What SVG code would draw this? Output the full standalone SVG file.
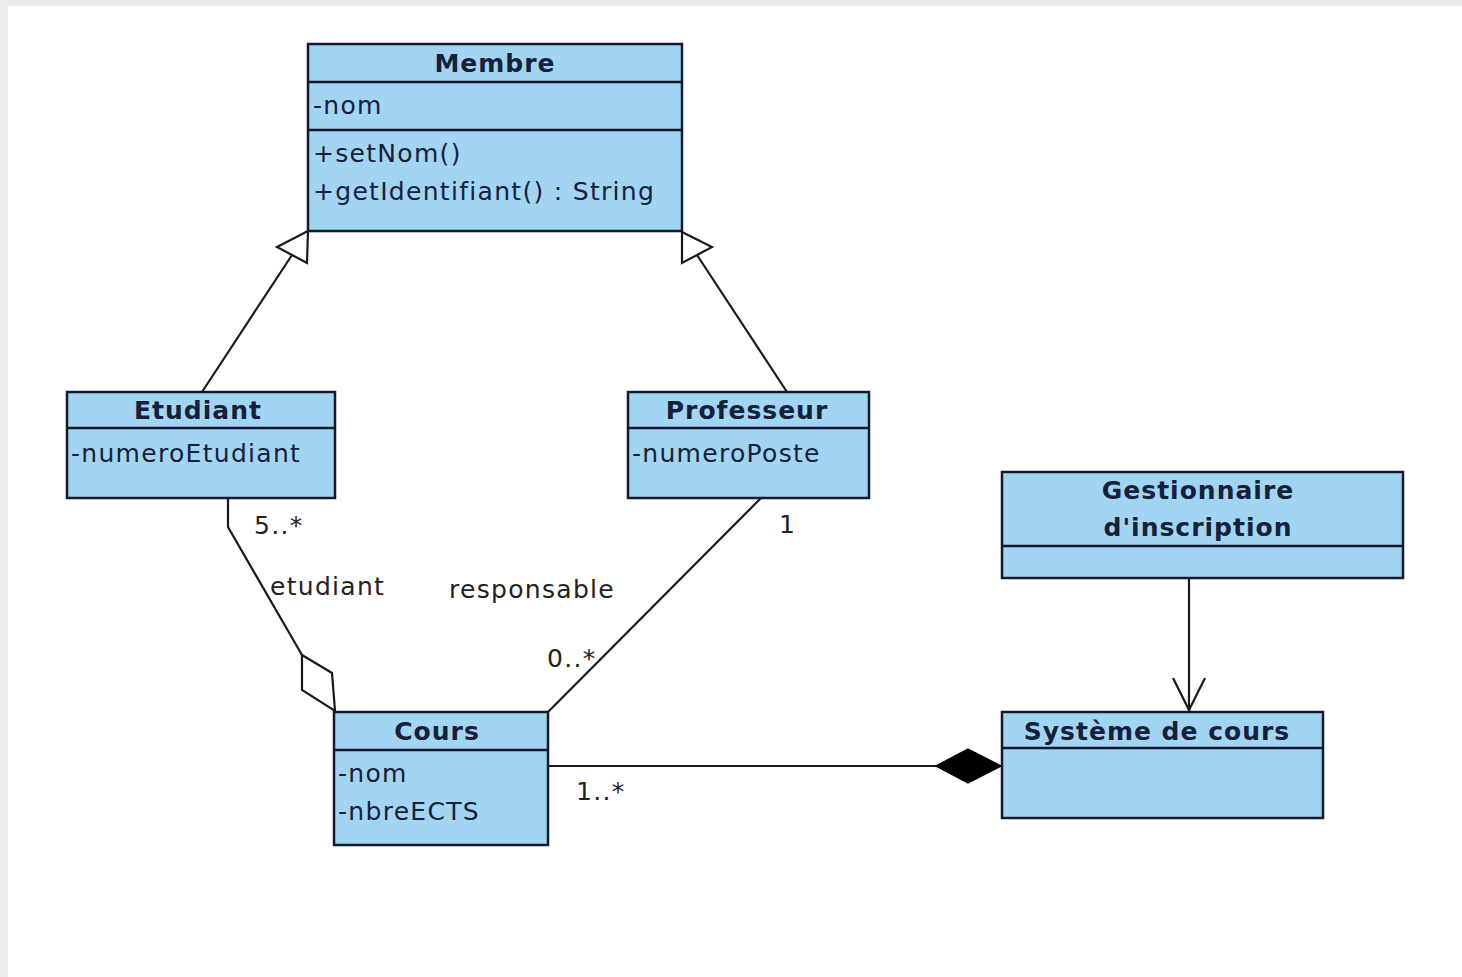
<svg xmlns="http://www.w3.org/2000/svg" width="1462" height="977" viewBox="0 0 1462 977">
<defs>
<style>
.box{fill:#a2d5f2;stroke:#141a2e;stroke-width:2.5}
.sep{stroke:#141a2e;stroke-width:2.5}
.t{font-family:"DejaVu Sans","Liberation Sans",sans-serif;font-size:25px;letter-spacing:1.3px;fill:#15203a}
.b{font-weight:bold;text-anchor:middle;letter-spacing:1px}
.lbl{font-family:"DejaVu Sans","Liberation Sans",sans-serif;font-size:25px;letter-spacing:1.3px;fill:#222}
.ln{stroke:#1a1a1a;stroke-width:2.2;fill:none}
</style>
</defs>
<rect x="0" y="0" width="1462" height="977" fill="#ececec"/>
<rect x="8" y="6" width="1454" height="971" fill="#ffffff"/>

<g id="connectors">
<!-- Etudiant -> Membre generalization -->
<line class="ln" x1="202" y1="392" x2="292" y2="255"/>
<polygon points="308,231 277,247 307,263" fill="#fff" stroke="#1a1a1a" stroke-width="2.2"/>
<!-- Professeur -> Membre generalization -->
<line class="ln" x1="787" y1="392" x2="697" y2="255"/>
<polygon points="682,232 712,247 682,263" fill="#fff" stroke="#1a1a1a" stroke-width="2.2"/>
<!-- Etudiant - Cours aggregation -->
<polyline class="ln" points="228,498 228,527 302,655"/>
<polygon points="302,655 332,673 335,711 302,690" fill="#fff" stroke="#1a1a1a" stroke-width="2.2"/>
<!-- Professeur - Cours -->
<line class="ln" x1="761" y1="498" x2="548" y2="712"/>
<!-- Cours - Systeme composition -->
<line class="ln" x1="548" y1="766" x2="937" y2="766"/>
<polygon points="936,766 968,749 1001,766 968,783" fill="#000" stroke="#000" stroke-width="1.5"/>
<!-- Gestionnaire -> Systeme navigable -->
<line class="ln" x1="1189" y1="578" x2="1189" y2="711"/>
<polyline class="ln" points="1173,678 1189,710 1205,678"/>
<text class="lbl" x="254" y="534">5..*</text>
<text class="lbl" x="270" y="595">etudiant</text>
<text class="lbl" x="449" y="598">responsable</text>
<text class="lbl" x="547" y="667">0..*</text>
<text class="lbl" x="779" y="533">1</text>
<text class="lbl" x="576" y="800">1..*</text>
</g>

<g id="membre">
<rect class="box" x="308" y="44" width="374" height="187"/>
<line class="sep" x1="308" y1="82" x2="682" y2="82"/>
<line class="sep" x1="308" y1="130" x2="682" y2="130"/>
<text class="t b" x="495" y="72">Membre</text>
<text class="t" x="313" y="114">-nom</text>
<text class="t" x="313" y="162">+setNom()</text>
<text class="t" x="313" y="200">+getIdentifiant() : String</text>
</g>

<g id="etudiant">
<rect class="box" x="67" y="392" width="268" height="106"/>
<line class="sep" x1="67" y1="428" x2="335" y2="428"/>
<text class="t b" x="198" y="419">Etudiant</text>
<text class="t" x="71" y="462">-numeroEtudiant</text>
</g>

<g id="professeur">
<rect class="box" x="628" y="392" width="241" height="106"/>
<line class="sep" x1="628" y1="428" x2="869" y2="428"/>
<text class="t b" x="747" y="419">Professeur</text>
<text class="t" x="632" y="462">-numeroPoste</text>
</g>

<g id="gestionnaire">
<rect class="box" x="1002" y="472" width="401" height="106"/>
<line class="sep" x1="1002" y1="546" x2="1403" y2="546"/>
<text class="t b" x="1198" y="499">Gestionnaire</text>
<text class="t b" x="1198" y="536">d'inscription</text>
</g>

<g id="systeme">
<rect class="box" x="1002" y="712" width="321" height="106"/>
<line class="sep" x1="1002" y1="748" x2="1323" y2="748"/>
<text class="t b" x="1157" y="740">Système de cours</text>
</g>

<g id="cours">
<rect class="box" x="334" y="712" width="214" height="133"/>
<line class="sep" x1="334" y1="750" x2="548" y2="750"/>
<text class="t b" x="437" y="740">Cours</text>
<text class="t" x="338" y="782">-nom</text>
<text class="t" x="338" y="820">-nbreECTS</text>
</g>
</svg>
